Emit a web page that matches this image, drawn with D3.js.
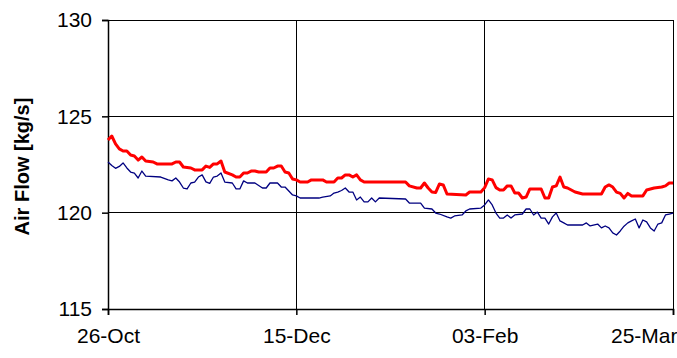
<!DOCTYPE html>
<html>
<head>
<meta charset="utf-8">
<script src="https://cdn.jsdelivr.net/npm/d3@7"></script>
<style>
  html, body { margin: 0; padding: 0; background: #fff; }
  svg { display: block; }
  text { font-family: "Liberation Sans", Arial, sans-serif; fill: #000; }
</style>
</head>
<body>
<svg id="chart" width="677" height="358"></svg>
<script>
// Daily readings, day offset from 26-Oct
const startDate = new Date(2002, 9, 26);

const upperDays = [0,1,2,3,4,5,6,7,8,9,10,12,13,17,18,19,20,22,23,25,26,27,28,29,30,31,33,34,35,36,37,38,39,40,42,43,44,45,46,47,48,49,50,51,53,54,57,58,60,61,62,63,64,65,66,67,68,79,80,82,83,84,85,86,87,88,89,90,95,96,99,100,101,102,103,104,105,106,107,108,109,110,111,112,115,116,117,118,119,120,121,122,124,126,131,132,133,134,135,136,137,138,139,142,143,145,147,148,149,150];
const upperFlow = [123.77,123.98,123.57,123.31,123.20,123.20,122.99,122.94,122.73,122.89,122.68,122.63,122.53,122.53,122.63,122.63,122.37,122.32,122.22,122.22,122.42,122.35,122.53,122.53,122.68,122.11,121.96,121.85,121.85,122.06,122.06,122.16,122.16,122.11,122.11,122.32,122.32,122.42,122.42,122.11,122.06,121.75,121.70,121.59,121.59,121.70,121.70,121.59,121.59,121.80,121.80,121.96,121.96,121.85,121.96,121.70,121.59,121.59,121.39,121.28,121.28,121.54,121.28,121.07,121.05,121.49,121.44,120.97,120.92,121.07,121.07,121.30,121.75,121.70,121.30,121.18,121.18,121.39,121.39,121.02,121.02,120.76,120.81,121.23,121.23,120.76,120.76,121.33,121.39,121.85,121.33,121.28,121.07,120.97,120.97,121.33,121.44,121.33,121.07,121.00,120.76,121.00,120.87,120.87,121.18,121.28,121.33,121.39,121.54,121.54];

const lowerDays = [0,1,2,3,4,5,6,7,8,9,10,14,16,17,18,19,20,21,22,23,24,25,26,27,28,29,30,31,33,34,35,36,37,39,41,42,43,45,46,47,49,50,51,56,57,59,60,61,62,63,64,65,66,67,68,69,70,71,72,79,80,83,84,86,87,88,90,91,92,94,95,96,99,100,101,102,103,104,105,106,107,108,110,111,112,113,114,115,116,117,118,119,120,121,122,126,127,128,130,131,132,133,134,135,136,137,138,139,140,141,142,143,144,145,146,147,148,149,150];
const lowerFlow = [122.63,122.45,122.30,122.40,122.58,122.32,122.11,122.05,121.80,122.16,121.90,121.85,121.70,121.65,121.80,121.59,121.28,121.23,121.54,121.59,121.85,121.96,121.60,121.52,121.85,121.90,122.06,121.59,121.54,121.23,121.23,121.65,121.54,121.54,121.28,121.28,121.54,121.54,121.33,121.33,120.92,120.87,120.76,120.76,120.81,120.87,121.02,121.07,121.15,121.28,121.07,121.07,120.66,120.81,120.56,120.56,120.76,120.56,120.76,120.71,120.50,120.50,120.24,120.19,119.98,119.93,119.78,119.72,119.83,119.88,120.09,120.19,120.24,120.40,120.66,120.40,119.98,119.72,119.72,119.88,119.72,119.88,119.93,120.19,120.19,119.88,120.03,119.72,119.72,119.41,119.78,119.98,119.57,119.47,119.36,119.36,119.47,119.31,119.41,119.21,119.31,119.21,118.95,118.84,119.05,119.30,119.47,119.57,119.67,119.21,119.62,119.52,119.21,119.05,119.41,119.47,119.88,119.93,119.98];

const tickDays = [0, 50, 100, 150];
const yTicks = [115, 120, 125, 130];
const yLabel = "Air Flow [kg/s]";

const toDate = d => d3.timeDay.offset(startDate, d);
const upper = upperDays.map((d, i) => ({ date: toDate(d), value: upperFlow[i] }));
const lower = lowerDays.map((d, i) => ({ date: toDate(d), value: lowerFlow[i] }));

const margin = { left: 108, right: 4, top: 20, bottom: 49 };
const W = 677, H = 358;
const svg = d3.select("#chart");

const x = d3.scaleTime()
  .domain([toDate(0), toDate(150)])
  .range([margin.left, W - margin.right]);
const y = d3.scaleLinear()
  .domain([115, 130])
  .range([H - margin.bottom, margin.top]);

// Gridlines
const grid = svg.append("g").attr("stroke", "#000").attr("stroke-width", 1).attr("shape-rendering", "crispEdges");
yTicks.filter(v => v > 115).forEach(v => {
  grid.append("line").attr("x1", margin.left).attr("x2", W - margin.right)
    .attr("y1", y(v)).attr("y2", y(v));
});
tickDays.filter(d => d > 0).forEach(d => {
  grid.append("line").attr("x1", x(toDate(d))).attr("x2", x(toDate(d)))
    .attr("y1", margin.top).attr("y2", H - margin.bottom);
});

// Axes
const yAxis = d3.axisLeft(y).tickValues(yTicks).tickSize(6).tickPadding(10);
const gy = svg.append("g").attr("transform", `translate(${margin.left},0)`).call(yAxis);
const xAxis = d3.axisBottom(x).tickValues(tickDays.map(toDate)).tickSize(6).tickPadding(13)
  .tickFormat(d3.timeFormat("%d-%b"));
const gx = svg.append("g").attr("transform", `translate(0,${H - margin.bottom})`).call(xAxis);

[gx, gy].forEach(g => {
  g.select(".domain").attr("stroke", "#000").attr("stroke-width", 1.5);
  g.selectAll(".tick line").attr("stroke", "#000").attr("stroke-width", 1.5);
  g.selectAll(".tick text").attr("font-size", 21).attr("font-family", "Liberation Sans, Arial, sans-serif");
});
gx.selectAll(".tick text").filter((d, i) => i === tickDays.length - 1).attr("text-anchor", "end").attr("dx", 4);

// Y title
svg.append("text")
  .attr("transform", `translate(29,${(margin.top + H - margin.bottom) / 2 + 2}) rotate(-90)`)
  .attr("text-anchor", "middle")
  .attr("font-size", 20)
  .attr("font-weight", "bold")
  .text(yLabel);

// Series
const line = d3.line().x(d => x(d.date)).y(d => y(d.value));
svg.append("path").datum(lower).attr("fill", "none").attr("stroke", "#000080")
  .attr("stroke-width", 1.3).attr("stroke-linejoin", "round").attr("d", line);
svg.append("path").datum(upper).attr("fill", "none").attr("stroke", "#ff0000")
  .attr("stroke-width", 3).attr("stroke-linejoin", "round").attr("d", line);
</script>
</body>
</html>
